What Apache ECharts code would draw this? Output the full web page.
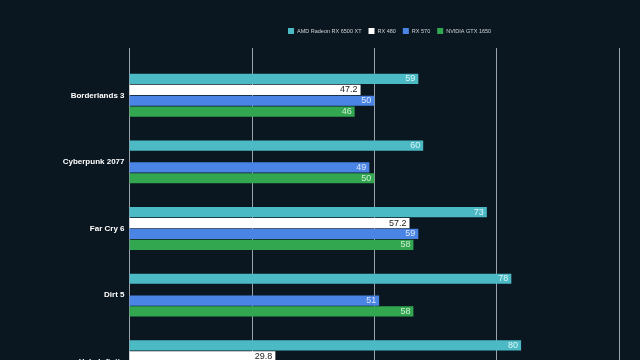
<!DOCTYPE html>
<html>
<head>
<meta charset="utf-8">
<script src="https://cdn.jsdelivr.net/npm/echarts@6/dist/echarts.min.js"></script>
<style>
  html, body { margin: 0; padding: 0; background: #0b1720; overflow: hidden; }
  #chart { width: 640px; height: 400px; }
</style>
</head>
<body>
<div id="chart"></div>
<script>
// chart runs past the bottom of the 360px window, like the cropped source
const games = ['Borderlands 3', 'Cyberpunk 2077', 'Far Cry 6', 'Dirt 5', 'Halo Infinite']
const rx6500xt = [59, 60, 73, 78, 80]
const rx480 = [47.2, null, 57.2, null, 29.8]
const rx570 = [50, 49, 59, 51, null]
const gtx1650 = [46, 50, 58, 58, null]
const xTicks = [0, 25, 50, 75, 100]

const chart = echarts.init(document.getElementById('chart'))

const mkSeries = (name, data, color, labelColor) => ({
  name,
  type: 'bar',
  data,
  barWidth: 10.2,
  barGap: '7%',
  itemStyle: { color },
  label: {
    show: true,
    position: 'insideRight',
    distance: 3,
    color: labelColor,
    fontSize: 9,
    fontFamily: 'Liberation Sans'
  }
})

const option = {
  backgroundColor: '#0b1720',
  animation: false,
  legend: {
    left: 283,
    top: 23,
    itemWidth: 6,
    itemHeight: 6,
    itemGap: 7,
    icon: 'rect',
    textStyle: { color: '#d0d4d8', fontSize: 5.5, fontFamily: 'Liberation Sans', padding: [0, 0, 0, -2] },
    data: ['AMD Radeon RX 6500 XT', 'RX 480', 'RX 570', 'NVIDIA GTX 1650']
  },
  grid: [
    { left: 129.5, right: 21, top: 62, bottom: 5 },
    { left: 129.5, right: 21, top: 48, bottom: 5 }
  ],
  xAxis: [
    {
      type: 'value',
      gridIndex: 0,
      min: xTicks[0],
      max: xTicks[xTicks.length - 1],
      interval: 25,
      axisLabel: { show: false },
      axisLine: { show: false },
      axisTick: { show: false },
      splitLine: { show: false }
    },
    {
      type: 'value',
      gridIndex: 1,
      min: xTicks[0],
      max: xTicks[xTicks.length - 1],
      interval: 25,
      axisLabel: { show: false },
      axisLine: { show: false },
      axisTick: { show: false },
      splitLine: { show: true, lineStyle: { color: '#9aa1a8', width: 1 } }
    }
  ],
  yAxis: [
    {
      type: 'category',
      gridIndex: 0,
      inverse: true,
      data: games,
      axisLine: { show: false },
      axisTick: { show: false },
      axisLabel: {
        color: '#ffffff',
        fontWeight: 'bold',
        fontSize: 8,
        margin: 5,
        padding: [3, 0, 0, 0],
        fontFamily: 'Liberation Sans'
      }
    },
    { type: 'value', gridIndex: 1, show: false }
  ],
  series: [
    mkSeries('AMD Radeon RX 6500 XT', rx6500xt, '#4bbac4', '#dff5f7'),
    mkSeries('RX 480', rx480, '#ffffff', '#222222'),
    mkSeries('RX 570', rx570, '#4a85e6', '#dde7fb'),
    mkSeries('NVIDIA GTX 1650', gtx1650, '#33a650', '#cdeed5')
  ]
}

chart.setOption(option)
</script>
</body>
</html>
